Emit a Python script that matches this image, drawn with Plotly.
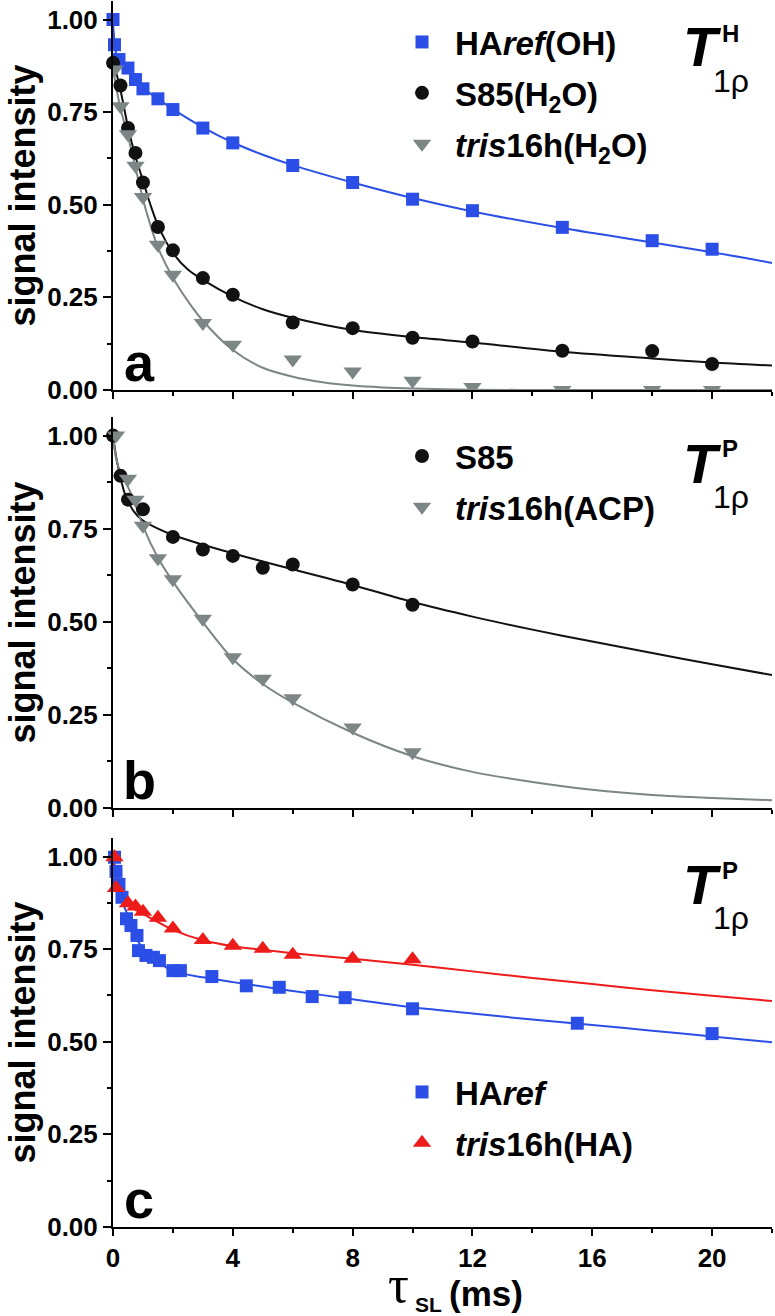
import plotly.graph_objects as go

# ---------------- data ----------------
# panel a : T1rho(H)
a_haref_t = [0, 0.05, 0.2, 0.5, 0.75, 1, 1.5, 2, 3, 4, 6, 8, 10, 12, 15, 18, 20]
a_haref_y = [1.00, 0.932, 0.892, 0.869, 0.838, 0.813, 0.786, 0.757, 0.707, 0.667,
             0.606, 0.560, 0.515, 0.484, 0.439, 0.403, 0.380]
a_s85_t = [0, 0.25, 0.5, 0.75, 1, 1.5, 2, 3, 4, 6, 8, 10, 12, 15, 18, 20]
a_s85_y = [0.883, 0.822, 0.707, 0.640, 0.560, 0.440, 0.377, 0.302, 0.257, 0.182,
           0.167, 0.141, 0.131, 0.106, 0.105, 0.070]
a_tris_t = [0.05, 0.25, 0.5, 0.75, 1, 1.5, 2, 3, 4, 6, 8, 10, 12, 15, 18, 20]
a_tris_y = [0.865, 0.766, 0.690, 0.605, 0.521, 0.392, 0.311, 0.181, 0.122, 0.082,
            0.050, 0.025, 0.008, 0.0, 0.0, 0.0]

# fitted curves, panel a
a_haref_fit_t = [0, 0.05, 0.1, 0.2, 0.35, 0.5, 0.75, 1, 1.5, 2, 3, 4, 5, 6, 8, 10,
                 12, 15, 18, 20, 22]
a_haref_fit_y = [0.99, 0.94, 0.91, 0.89, 0.878, 0.866, 0.84, 0.815, 0.786, 0.758,
                 0.709, 0.668, 0.635, 0.607, 0.560, 0.518, 0.482, 0.437, 0.398,
                 0.372, 0.343]
a_s85_fit_t = [0, 0.1, 0.25, 0.5, 0.75, 1, 1.25, 1.5, 2, 2.5, 3, 4, 5, 6, 8, 10,
               12, 15, 18, 20, 22]
a_s85_fit_y = [0.90, 0.86, 0.81, 0.71, 0.63, 0.565, 0.50, 0.445, 0.370, 0.325,
               0.297, 0.252, 0.218, 0.195, 0.162, 0.143, 0.128, 0.103, 0.085,
               0.074, 0.066]
a_tris_fit_t = [0, 0.1, 0.25, 0.5, 0.75, 1, 1.25, 1.5, 2, 2.5, 3, 4, 5, 6, 7, 8,
                9, 10, 12, 14, 22]
a_tris_fit_y = [0.87, 0.82, 0.76, 0.685, 0.60, 0.515, 0.445, 0.385, 0.303, 0.240,
                0.187, 0.108, 0.060, 0.036, 0.021, 0.012, 0.007, 0.004, 0.001,
                0.0, 0.0]

# panel b : T1rho(P)
b_s85_t = [0, 0.25, 0.5, 1, 2, 3, 4, 5, 6, 8, 10]
b_s85_y = [1.0, 0.892, 0.828, 0.802, 0.728, 0.694, 0.677, 0.645, 0.654, 0.600, 0.546]
b_tris_t = [0.1, 0.5, 0.75, 1, 1.5, 2, 3, 4, 5, 6, 8, 10]
b_tris_y = [1.0, 0.884, 0.828, 0.758, 0.671, 0.614, 0.508, 0.405, 0.347, 0.295,
            0.216, 0.150]

b_s85_fit_t = [0, 0.1, 0.2, 0.4, 0.7, 1, 1.5, 2, 3, 4, 5, 6, 8, 10, 12, 14, 16,
               18, 20, 22]
b_s85_fit_y = [1.0, 0.945, 0.905, 0.843, 0.796, 0.772, 0.750, 0.733, 0.707, 0.684,
               0.662, 0.641, 0.599, 0.553, 0.514, 0.479, 0.447, 0.416, 0.386, 0.357]
b_tris_fit_t = [0, 0.1, 0.3, 0.5, 0.75, 1, 1.5, 2, 3, 4, 5, 6, 8, 10, 12, 14, 16,
                18, 20, 22]
b_tris_fit_y = [1.0, 0.94, 0.89, 0.862, 0.815, 0.757, 0.672, 0.608, 0.499, 0.400,
                0.333, 0.283, 0.202, 0.139, 0.097, 0.070, 0.049, 0.035, 0.027, 0.021]

# panel c : T1rho(P)
c_haref_t = [0.05, 0.1, 0.2, 0.3, 0.45, 0.6, 0.8, 0.85, 1.1, 1.35, 1.55, 2, 2.25,
             3.3, 4.45, 5.55, 6.65, 7.75, 10, 15.5, 20]
c_haref_y = [0.998, 0.960, 0.925, 0.890, 0.832, 0.814, 0.787, 0.746, 0.733, 0.728,
             0.719, 0.692, 0.692, 0.676, 0.651, 0.647, 0.622, 0.619, 0.589, 0.550,
             0.522]
c_tris_t = [0.05, 0.1, 0.5, 0.75, 1, 1.5, 2, 3, 4, 5, 6, 8, 10]
c_tris_y = [0.998, 0.915, 0.874, 0.865, 0.851, 0.835, 0.806, 0.775, 0.759, 0.751,
            0.735, 0.724, 0.723]

c_haref_fit_t = [0, 0.1, 0.2, 0.35, 0.5, 0.7, 0.85, 1, 1.35, 1.7, 2, 3, 4, 5, 6,
                 8, 10, 12, 14, 16, 18, 20, 22]
c_haref_fit_y = [1.0, 0.955, 0.915, 0.87, 0.84, 0.80, 0.77, 0.75, 0.722, 0.705,
                 0.690, 0.674, 0.661, 0.649, 0.637, 0.615, 0.593, 0.576, 0.560,
                 0.545, 0.530, 0.514, 0.499]
c_tris_fit_t = [0, 0.1, 0.2, 0.5, 1, 1.5, 2, 3, 4, 5, 6, 8, 10, 12, 14, 16, 18,
                20, 22]
c_tris_fit_y = [1.0, 0.94, 0.91, 0.87, 0.845, 0.823, 0.802, 0.774, 0.758, 0.748,
                0.739, 0.724, 0.708, 0.690, 0.672, 0.656, 0.639, 0.624, 0.610]

x_range = [0, 22]
y_range = [0, 1.05]

BLUE = "#2b4fe6"
BLACK = "#111111"
GRAY = "#7c8684"
RED = "#ee1b1b"
FONT = "Liberation Sans"

# page geometry (pixels)
W, H = 775, 1316
ML, MR, MT, MB = 113, 3, 1, 89


def fx(px):
    return (px - ML) / (W - ML - MR)


def fy(py):
    return (H - MB - py) / (H - MT - MB)


panels = [  # (suffix, top px, bottom px)
    ("", 1, 390),
    ("2", 417, 808),
    ("3", 838, 1227),
]

fig = go.Figure()


def markers(t, y, name, color, symbol, size, legend, clip=False):
    n = legend.replace("legend", "")
    fig.add_trace(go.Scatter(
        x=t, y=y, mode="markers", name=name, legend=legend, legendgroup=name,
        marker=dict(color=color, symbol=symbol, size=size, line=dict(width=0)),
        cliponaxis=clip, xaxis="x" + n, yaxis="y" + n,
    ))


def fitline(t, y, color, ax):
    fig.add_trace(go.Scatter(
        x=t, y=y, mode="lines", showlegend=False, hoverinfo="skip",
        line=dict(color=color, width=2, shape="spline", smoothing=0.8),
        xaxis="x" + ax, yaxis="y" + ax,
    ))


# panel a
fitline(a_haref_fit_t, a_haref_fit_y, BLUE, "")
fitline(a_s85_fit_t, a_s85_fit_y, BLACK, "")
fitline(a_tris_fit_t, a_tris_fit_y, GRAY, "")
markers(a_haref_t, a_haref_y, "HA<i>ref</i>(OH)", BLUE, "square", 13, "legend")
markers(a_s85_t, a_s85_y, "S85(H<sub>2</sub>O)", BLACK, "circle", 14, "legend")
markers(a_tris_t, a_tris_y, "<i>tris</i>16h(H<sub>2</sub>O)", GRAY, "triangle-down", 16,
        "legend", clip=True)

# panel b
fitline(b_s85_fit_t, b_s85_fit_y, BLACK, "2")
fitline(b_tris_fit_t, b_tris_fit_y, GRAY, "2")
markers(b_s85_t, b_s85_y, "S85", BLACK, "circle", 14, "legend2")
markers(b_tris_t, b_tris_y, "<i>tris</i>16h(ACP)", GRAY, "triangle-down", 16, "legend2")

# panel c
fitline(c_haref_fit_t, c_haref_fit_y, BLUE, "3")
fitline(c_tris_fit_t, c_tris_fit_y, RED, "3")
markers(c_haref_t, c_haref_y, "HA<i>ref</i>", BLUE, "square", 13, "legend3")
markers(c_tris_t, c_tris_y, "<i>tris</i>16h(HA)", RED, "triangle-up", 16, "legend3")

tickfont = dict(family=FONT, size=26, color="black", weight="bold")
layout = {}
for i, (s, top, bot) in enumerate(panels):
    n = i + 1
    dom = [fy(bot), fy(top)]
    layout["xaxis" + s] = dict(
        range=x_range, domain=[0, 1], anchor="y" + s,
        showline=True, linecolor="black", linewidth=2,
        ticks="outside", tick0=0, dtick=4, ticklen=7, tickwidth=2, tickcolor="black",
        minor=dict(dtick=2, ticks="outside", ticklen=4, tickwidth=2, tickcolor="black"),
        showticklabels=(s == "3"), tickfont=tickfont,
        showgrid=False, zeroline=False,
    )
    layout["yaxis" + s] = dict(
        range=y_range, domain=dom, anchor="x" + s,
        showline=True, linecolor="black", linewidth=2,
        ticks="outside", tick0=0, dtick=0.25, ticklen=8, tickwidth=2, tickcolor="black",
        minor=dict(dtick=0.125, ticks="outside", ticklen=4, tickwidth=2, tickcolor="black"),
        tickformat=".2f", tickfont=tickfont,
        showgrid=False, zeroline=False,
    )
    # frame: top and right axes with inward ticks
    layout["xaxis" + str(n + 3)] = dict(
        range=x_range, overlaying="x" + s, side="top", anchor="y" + s,
        showline=True, linecolor="black", linewidth=2,
        ticks="inside", tick0=0, dtick=2, ticklen=5, tickwidth=2, tickcolor="black",
        showticklabels=False, showgrid=False, zeroline=False,
    )
    layout["yaxis" + str(n + 3)] = dict(
        range=y_range, overlaying="y" + s, side="right", anchor="x" + s,
        showline=True, linecolor="black", linewidth=2,
        ticks="inside", tick0=0, dtick=0.125, ticklen=7, tickwidth=2, tickcolor="black",
        showticklabels=False, showgrid=False, zeroline=False,
    )

legfont = dict(family=FONT, size=33, color="black", weight="bold")
legend_tops = [14, 428, 1064]
for i, top in enumerate(legend_tops):
    key = "legend" if i == 0 else "legend" + str(i + 1)
    layout[key] = dict(
        x=fx(389), y=fy(top), xanchor="left", yanchor="top",
        font=legfont, bgcolor="rgba(0,0,0,0)", borderwidth=0,
        tracegroupgap=5, itemwidth=56,
    )

ann = []
letters = ["a", "b", "c"]
for i, (s, top, bot) in enumerate(panels):
    # T1rho labels
    ann.append(dict(text="<b><i>T</i></b>", x=fx(702), y=fy(top + 46),
                    font=dict(family=FONT, size=56, color="black")))
    ann.append(dict(text="<b>" + ("H" if i == 0 else "P") + "</b>", x=fx(730), y=fy(top + 32),
                    font=dict(family=FONT, size=24, color="black")))
    ann.append(dict(text="1\u03c1", x=fx(731), y=fy(top + 80),
                    font=dict(family=FONT, size=32, color="black")))
    # panel letter
    ann.append(dict(text="<b>" + letters[i] + "</b>", x=fx(139), y=fy(bot - 28),
                    font=dict(family=FONT, size=54, color="black")))
    # y title
    ann.append(dict(text="<b>signal intensity</b>", x=fx(22), y=fy((top + bot) / 2),
                    textangle=-90, font=dict(family=FONT, size=36, color="black")))

# x title
ann.append(dict(text="\u03c4", x=fx(398), y=fy(1284),
                font=dict(family="Liberation Serif", size=52, color="black")))
ann.append(dict(text="<b>SL</b>", x=fx(428), y=fy(1304),
                font=dict(family=FONT, size=21, color="black")))
ann.append(dict(text="<b>(ms)</b>", x=fx(486), y=fy(1293),
                font=dict(family=FONT, size=35, color="black")))

for a in ann:
    a.update(xref="paper", yref="paper", xanchor="center", yanchor="middle",
             showarrow=False)

fig.update_layout(
    width=W, height=H,
    margin=dict(l=ML, r=MR, t=MT, b=MB, pad=0),
    paper_bgcolor="white", plot_bgcolor="white",
    annotations=ann, **layout,
)

# the page body has a default 8px margin; drop it so the figure sits at 0,0
fig.write_html("out.html", config={"displayModeBar": False},
               post_script="document.body.style.margin='0px';")
